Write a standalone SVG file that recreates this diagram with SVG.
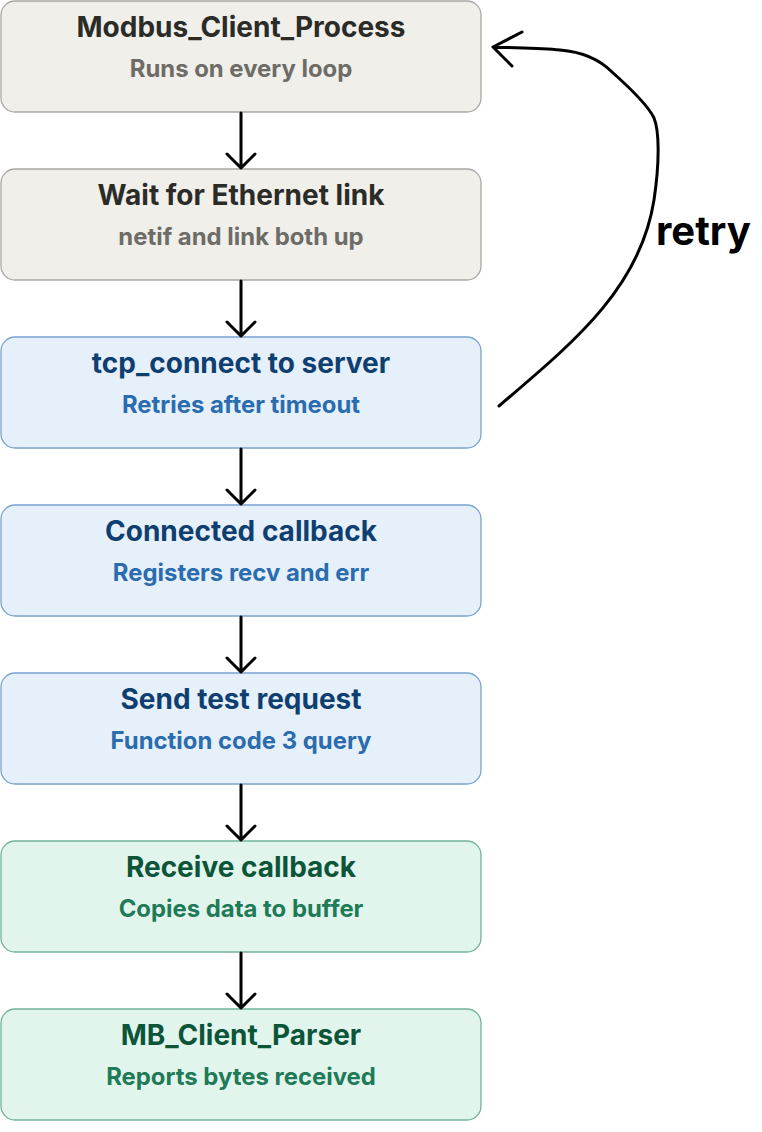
<svg xmlns="http://www.w3.org/2000/svg" width="762" height="1132" viewBox="0 0 762 1132">
<style>
.box{stroke-width:1.3}
.g rect{fill:#f0efea;stroke:#a9a8a0}
.b rect{fill:#e6f0fb;stroke:#7aa3cd}
.n rect{fill:#e2f5ed;stroke:#72b399}
.t{font-family:Inter,"Noto Sans",sans-serif;font-weight:700;font-size:28px;text-anchor:middle}
.s{font-family:Inter,"Noto Sans",sans-serif;font-weight:700;font-size:23.9px;text-anchor:middle}
.g .t{fill:#2b2b27}.g .s{fill:#6d6c66}
.b .t{fill:#0e3f70}.b .s{fill:#2b6cae}
.n .t{fill:#0c5539}.n .s{fill:#1f7a58}
.c{fill:none;stroke:#000;stroke-width:3;stroke-linecap:round;stroke-linejoin:round}
</style>
<g id="n1" class="g"><rect class="box" x="1" y="1" width="480" height="111" rx="14"/><text class="t" x="241" y="37">Modbus_Client_Process</text><text class="s" x="241" y="77">Runs on every loop</text></g>
<g id="n2" class="g"><rect class="box" x="1" y="169" width="480" height="111" rx="14"/><text class="t" x="241" y="205">Wait for Ethernet link</text><text class="s" x="241" y="245">netif and link both up</text></g>
<g id="n3" class="b"><rect class="box" x="1" y="337" width="480" height="111" rx="14"/><text class="t" x="241" y="373">tcp_connect to server</text><text class="s" x="241" y="413">Retries after timeout</text></g>
<g id="n4" class="b"><rect class="box" x="1" y="505" width="480" height="111" rx="14"/><text class="t" x="241" y="541">Connected callback</text><text class="s" x="241" y="581">Registers recv and err</text></g>
<g id="n5" class="b"><rect class="box" x="1" y="673" width="480" height="111" rx="14"/><text class="t" x="241" y="709">Send test request</text><text class="s" x="241" y="749">Function code 3 query</text></g>
<g id="n6" class="n"><rect class="box" x="1" y="841" width="480" height="111" rx="14"/><text class="t" x="241" y="877">Receive callback</text><text class="s" x="241" y="917">Copies data to buffer</text></g>
<g id="n7" class="n"><rect class="box" x="1" y="1009" width="480" height="111" rx="14"/><text class="t" x="241" y="1045">MB_Client_Parser</text><text class="s" x="241" y="1085">Reports bytes received</text></g>
<g id="connectors">
<path class="c" d="M241,113 V168 M227,154 L241,168 L255,154"/>
<path class="c" d="M241,281 V336 M227,322 L241,336 L255,322"/>
<path class="c" d="M241,449 V504 M227,490 L241,504 L255,490"/>
<path class="c" d="M241,617 V672 M227,658 L241,672 L255,658"/>
<path class="c" d="M241,785 V840 M227,826 L241,840 L255,826"/>
<path class="c" d="M241,953 V1008 M227,994 L241,1008 L255,994"/>
<path class="c" d="M499,406 C570,345 640,290 654,200 C660,160 659,130 654,118 C648,105 630,88 612,72 C600,60 585,52 560,50 C540,48 515,48 493,47 M522,32 L493,47 L512,66"/>
<text x="656" y="245" style="font-family:Inter,'Noto Sans',sans-serif;font-weight:700;font-size:40px;fill:#000">retry</text>
</g>
</svg>
